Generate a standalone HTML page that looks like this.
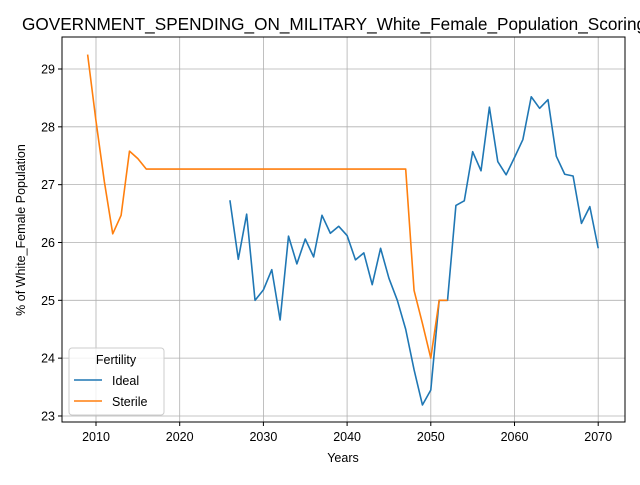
<!DOCTYPE html>
<html><head><meta charset="utf-8"><style>
body{margin:0;background:#fff;font-family:"Liberation Sans","DejaVu Sans",sans-serif}
</style></head><body>
<svg id="chart" width="640" height="480" xmlns="http://www.w3.org/2000/svg">
<rect width="640" height="480" fill="#fff"/>
<text x="22" y="30" font-size="17.2" text-anchor="start">GOVERNMENT_SPENDING_ON_MILITARY_White_Female_Population_Scoring</text>
<g id="grid"></g>
<g id="series"></g>
<rect x="62" y="37" width="563" height="385" fill="none" stroke="#000" stroke-width="1"/>
<g id="ticks" font-size="12.5"></g>
<text x="343" y="462" font-size="12.5" text-anchor="middle">Years</text>
<text transform="translate(25,230) rotate(-90)" font-size="12.5" text-anchor="middle">% of White_Female Population</text>
<g>
<rect x="69" y="348" width="95" height="67" rx="3" fill="#fff" fill-opacity="0.8" stroke="#ccc"/>
<text x="116" y="364" font-size="12.5" text-anchor="middle">Fertility</text>
<g><line x1="74" y1="380" x2="102" y2="380" stroke="#1f77b4" stroke-width="1.5"/><text x="112" y="385" font-size="12.5">Ideal</text></g>
<g><line x1="74" y1="401" x2="102" y2="401" stroke="#ff7f0e" stroke-width="1.5"/><text x="112" y="406" font-size="12.5">Sterile</text></g>
</g>
</svg>
<script>
const xTicks=[2010,2020,2030,2040,2050,2060,2070];
const yTicks=[23,24,25,26,27,28,29];
const idealYears=[2026,2027,2028,2029,2030,2031,2032,2033,2034,2035,2036,2037,2038,2039,2040,2041,2042,2043,2044,2045,2046,2047,2048,2049,2050,2051,2052,2053,2054,2055,2056,2057,2058,2059,2060,2061,2062,2063,2064,2065,2066,2067,2068,2069,2070];
const idealValues=[26.73,25.71,26.49,25.0,25.18,25.53,24.66,26.11,25.63,26.06,25.75,26.47,26.16,26.28,26.12,25.7,25.82,25.27,25.9,25.38,25.0,24.5,23.8,23.19,23.45,25.0,25.0,26.64,26.72,27.57,27.24,28.34,27.4,27.17,27.47,27.78,28.52,28.32,28.47,27.49,27.18,27.15,26.33,26.62,25.9];
const sterileYears=[2009,2010,2011,2012,2013,2014,2015,2016,2047,2048,2049,2050,2051,2052];
const sterileValues=[29.25,28.1,27.05,26.15,26.47,27.58,27.45,27.27,27.27,25.17,24.6,24.0,25.0,25.0];
const NS='http://www.w3.org/2000/svg';
const xs=y=>96+(y-2010)*8.37;
const ys=v=>69+(29-v)*57.83;
const grid=document.getElementById('grid'),ticks=document.getElementById('ticks'),ser=document.getElementById('series');
function mk(tag,attrs,parent){const e=document.createElementNS(NS,tag);for(const k in attrs)e.setAttribute(k,attrs[k]);parent.appendChild(e);return e;}
xTicks.forEach(t=>{const x=xs(t);
const g=mk('line',{x1:x,x2:x,y1:37,y2:422,stroke:'#b0b0b0','stroke-width':0.8},grid);


mk('line',{x1:x,x2:x,y1:422,y2:426,stroke:'#000'},ticks);
const l=mk('text',{x:x,y:441,'text-anchor':'middle'},ticks);l.textContent=t;

});
yTicks.forEach(t=>{const y=ys(t);
const g=mk('line',{x1:62,x2:625,y1:y,y2:y,stroke:'#b0b0b0','stroke-width':0.8},grid);


mk('line',{x1:58,x2:62,y1:y,y2:y,stroke:'#000'},ticks);
const l=mk('text',{x:55,y:y+4.5,'text-anchor':'end'},ticks);l.textContent=t;

});
function line(xsArr,vals,color,name){
const p=mk('polyline',{points:xsArr.map((y,i)=>xs(y)+','+ys(vals[i])).join(' '),fill:'none',stroke:color,'stroke-width':1.6,'stroke-linejoin':'round'},ser);

}
line(idealYears,idealValues,'#1f77b4','ideal-line');
line(sterileYears,sterileValues,'#ff7f0e','sterile-line');
</script>
</body></html>
